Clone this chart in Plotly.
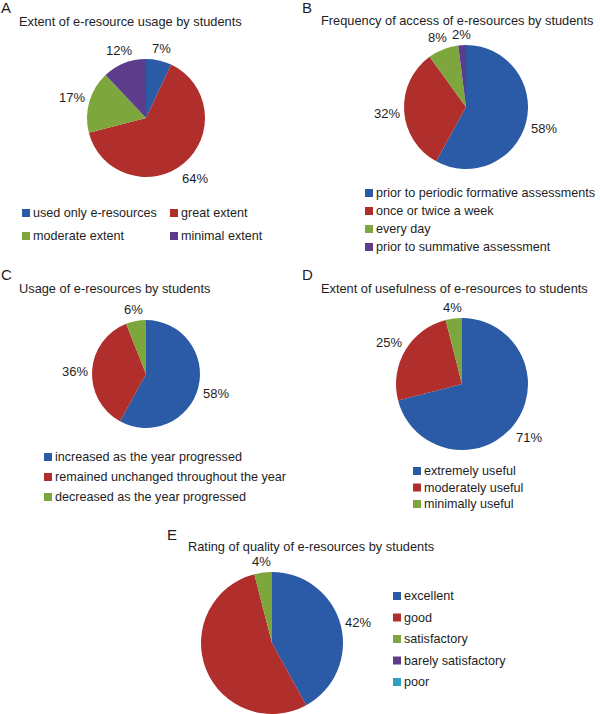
import math
import plotly.graph_objects as go

W, H = 600, 714
FONT = "Liberation Sans, Arial, Helvetica, sans-serif"
TXT = "#1e1e1e"

BLUE, RED, GREEN, PURPLE, CYAN = "#2B5BA6", "#B02E2B", "#7DA63D", "#5D3C8C", "#2F9FC3"

# ---------------- data ----------------
a_title = "Extent of e-resource usage by students"
a_cats = ["used only e-resources", "great extent", "moderate extent", "minimal extent"]
a_vals = [7, 64, 17, 12]

b_title = "Frequency of access of e-resources by students"
b_cats = ["prior to periodic formative assessments", "once or twice a week", "every day",
          "prior to summative assessment"]
b_vals = [58, 32, 8, 2]

c_title = "Usage of e-resources by students"
c_cats = ["increased as the year progressed", "remained unchanged throughout the year",
          "decreased as the year progressed"]
c_vals = [58, 36, 6]

d_title = "Extent of usefulness of e-resources to students"
d_cats = ["extremely useful", "moderately useful", "minimally useful"]
d_vals = [71, 25, 4]

e_title = "Rating of quality of e-resources by students"
e_cats = ["excellent", "good", "satisfactory", "barely satisfactory", "poor"]
e_vals = [42, 54, 4, 0, 0]
e_show = [True, False, True, False, False]

colors = [BLUE, RED, GREEN, PURPLE, CYAN]

TITLE_SIZE = 12.8
LEG_SIZE = 12.6
LAB_SIZE = 13

# ---------------- layout helpers ----------------
fig = go.Figure()
annotations = []
shapes = []


def px_x(x):
    return x / W


def px_y(y):
    return 1 - y / H


def text(x, y, s, size=13, anchor="left"):
    annotations.append(dict(x=px_x(x), y=px_y(y), xref="paper", yref="paper", text=s,
                            showarrow=False, xanchor=anchor, yanchor="middle",
                            borderpad=0,
                            font=dict(family=FONT, size=size, color=TXT)))


def text_width(s, size):
    return len(s) * size * 0.56


def pie(cx, cy, r, cats, vals, show=None):
    fig.add_trace(go.Pie(labels=cats, values=vals, sort=False, direction="clockwise",
                         rotation=0, textinfo="none", hoverinfo="label+percent",
                         marker=dict(colors=colors[:len(vals)], line=dict(width=0)),
                         domain=dict(x=[px_x(cx - r), px_x(cx + r)],
                                     y=[px_y(cy + r), px_y(cy - r)]),
                         showlegend=False))
    total = sum(vals)
    cum = 0
    for i, v in enumerate(vals):
        mid = (cum + v / 2) / total * 2 * math.pi
        cum += v
        if v == 0 or (show is not None and not show[i]):
            continue
        lab = f"{round(v / total * 100)}%"
        hw = text_width(lab, LAB_SIZE) / 2
        hh = 6
        s, c = math.sin(mid), math.cos(mid)
        R = r + 6 + hw * abs(s) + hh * abs(c)
        text(cx + R * s, cy - R * c + 1.5, lab, size=LAB_SIZE, anchor="center")


def legend_rows(x, y0, dy, cats):
    for i, cat in enumerate(cats):
        y = y0 + i * dy
        shapes.append(dict(type="rect", xref="paper", yref="paper",
                           x0=px_x(x), x1=px_x(x + 8), y0=px_y(y + 4), y1=px_y(y - 4),
                           fillcolor=colors[i], line=dict(width=0)))
        text(x + 10, y, cat, size=LEG_SIZE)


# ---------------- panel A ----------------
text(0, 8, "A", size=15)
text(18, 21, a_title, size=TITLE_SIZE)
pie(146, 118, 59, a_cats, a_vals)
for i, cat in enumerate(a_cats):
    x = 22 if i % 2 == 0 else 170
    y = 213 + (i // 2) * 23
    shapes.append(dict(type="rect", xref="paper", yref="paper",
                       x0=px_x(x), x1=px_x(x + 8), y0=px_y(y + 4), y1=px_y(y - 4),
                       fillcolor=colors[i], line=dict(width=0)))
    text(x + 10, y, cat, size=LEG_SIZE)

# ---------------- panel B ----------------
text(301, 8, "B", size=15)
text(320, 20, b_title, size=TITLE_SIZE)
pie(466, 107, 62, b_cats, b_vals)
legend_rows(365, 193, 18, b_cats)

# ---------------- panel C ----------------
text(0, 274, "C", size=15)
text(18, 288, c_title, size=TITLE_SIZE)
pie(146, 374, 54, c_cats, c_vals)
legend_rows(44, 457, 20, c_cats)

# ---------------- panel D ----------------
text(301, 274, "D", size=15)
text(320, 288, d_title, size=TITLE_SIZE)
pie(462, 384, 66, d_cats, d_vals)
legend_rows(413, 471, 16.5, d_cats)

# ---------------- panel E ----------------
text(166, 534, "E", size=15)
text(187, 546, e_title, size=TITLE_SIZE)
pie(272, 643, 71, e_cats, e_vals, show=e_show)
legend_rows(393, 596, 21.5, e_cats)

fig.update_layout(width=W, height=H, margin=dict(l=0, r=0, t=0, b=0),
                  paper_bgcolor="white", plot_bgcolor="white",
                  annotations=annotations, shapes=shapes,
                  font=dict(family=FONT, color=TXT))
fig.write_html("out.html", config={"displayModeBar": False},
               post_script="document.body.style.margin='0';")
